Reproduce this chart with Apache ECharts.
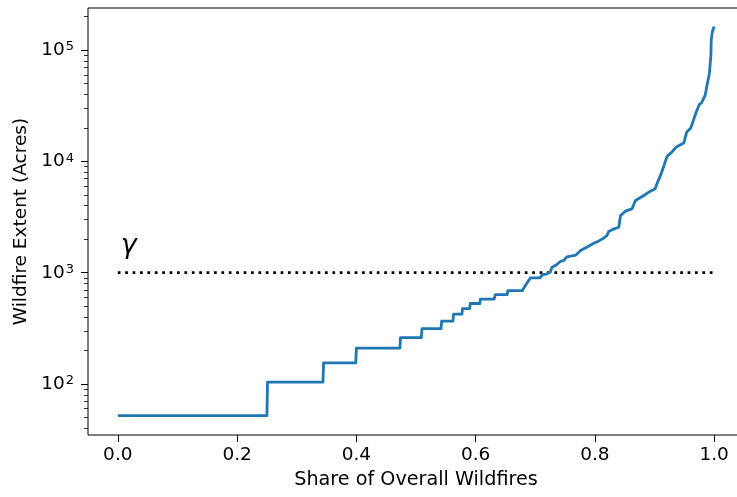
<!DOCTYPE html>
<html><head><meta charset="utf-8">
<script src="https://cdn.jsdelivr.net/npm/echarts@6/dist/echarts.min.js"></script>
<style>html,body{margin:0;padding:0;background:#fff}#c{width:737px;height:497px}</style>
</head><body><div id="c"></div>
<script>
// Share of overall wildfires (x) and wildfire extent in acres (y)
const shareValues = [
  0, 0.250, 0.251, 0.344, 0.345, 0.399, 0.400, 0.473, 0.474, 0.509, 0.510,
  0.542, 0.543, 0.562, 0.563, 0.577, 0.578, 0.590, 0.591, 0.607, 0.608,
  0.631, 0.633, 0.653, 0.654, 0.678, 0.685, 0.692, 0.708, 0.712, 0.718,
  0.720, 0.725, 0.728, 0.735, 0.742, 0.748, 0.753, 0.768, 0.776, 0.787,
  0.798, 0.806, 0.815, 0.820, 0.823, 0.830, 0.840, 0.843, 0.851, 0.862,
  0.868, 0.882, 0.893, 0.901, 0.905, 0.910, 0.915, 0.921, 0.929, 0.935,
  0.941, 0.949, 0.954, 0.960, 0.963, 0.967, 0.970, 0.975, 0.979, 0.985,
  0.988, 0.992, 0.9945, 0.995, 0.997, 1.0
];
const extentAcres = [
  52, 52, 104, 104, 155, 155, 210, 210, 261, 261, 315,
  315, 367, 367, 425, 425, 476, 476, 529, 529, 580,
  580, 636, 636, 689, 689, 790, 900, 900, 960, 970,
  1005, 1010, 1120, 1170, 1260, 1290, 1390, 1440, 1580, 1700,
  1840, 1920, 2050, 2150, 2340, 2450, 2560, 3270, 3570, 3740,
  4460, 4940, 5400, 5680, 6500, 7480, 8900, 11100, 12100, 13200,
  13900, 14600, 18400, 19700, 21500, 25100, 27800, 32400, 33700, 39400,
  48400, 61700, 90200, 123000, 146600, 162600
];
const xTickValues = [0, 0.2, 0.4, 0.6, 0.8, 1.0];
const yTickExponents = [2, 3, 4, 5];
const yMinorTickAcres = [40, 50, 60, 70, 80, 90, 200, 300, 400, 500, 600, 700, 800, 900,
  2000, 3000, 4000, 5000, 6000, 7000, 8000, 9000, 20000, 30000, 40000, 50000, 60000,
  70000, 80000, 90000, 200000];
const thresholdShare = [0, 1];
const thresholdAcres = 1000;
const thresholdLabel = 'γ';
const xLabel = 'Share of Overall Wildfires';
const yLabel = 'Wildfire Extent (Acres)';

const FONT = 'DejaVu Sans';
const yMin = 1.542, yMax = 5.378;
const chart = echarts.init(document.getElementById('c'), null, {renderer: 'canvas'});
const yAxisBase = {
  type: 'value', min: yMin, max: yMax, position: 'left',
  axisLine: {show: false, onZero: false}, splitLine: {show: false}
};
chart.setOption({
  animation: false,
  backgroundColor: '#fff',
  grid: {left: 88, top: 8, width: 656, bottom: 62, outerBoundsMode: 'none', containLabel: false,
    show: true, borderColor: '#000', borderWidth: 1, backgroundColor: 'transparent'},
  xAxis: {
    type: 'value', min: -0.05, max: 1.05,
    name: xLabel, nameLocation: 'middle', nameGap: 36,
    nameTextStyle: {fontFamily: FONT, fontSize: 19.2, color: '#000'},
    axisLine: {show: false, onZero: false}, splitLine: {show: false},
    axisTick: {show: true, customValues: xTickValues, length: 7, lineStyle: {color: '#000', width: 1}},
    axisLabel: {customValues: xTickValues, margin: 11, fontFamily: FONT, fontSize: 18.5, color: '#000',
      formatter: v => v.toFixed(1)}
  },
  yAxis: [
    Object.assign({}, yAxisBase, {
      name: yLabel, nameLocation: 'middle', nameGap: 55, nameRotate: 90,
      nameTextStyle: {fontFamily: FONT, fontSize: 18.5, color: '#000'},
      axisTick: {show: true, customValues: yTickExponents, length: 7, lineStyle: {color: '#000', width: 1}},
      axisLabel: {customValues: yTickExponents, margin: 14,
        formatter: v => '{b|10}{s|' + Math.round(v) + '}',
        rich: {
          b: {fontFamily: FONT, fontSize: 18.5, color: '#000'},
          s: {fontFamily: FONT, fontSize: 13, color: '#000', verticalAlign: 'top', padding: [0, 0, 6, 1]}
        }}
    }),
    Object.assign({}, yAxisBase, {
      axisTick: {show: true, customValues: yMinorTickAcres.map(v => Math.log10(v)), length: 4, lineStyle: {color: '#000', width: 0.8}},
      axisLabel: {show: false}
    })
  ],
  series: [
    {
      type: 'line', xAxisIndex: 0, yAxisIndex: 0,
      data: shareValues.map((x, i) => [x, Math.log10(extentAcres[i])]),
      showSymbol: false, symbol: 'none',
      lineStyle: {color: '#1f77b4', width: 2.8, join: 'round'},
      z: 3
    },
    {
      type: 'line', xAxisIndex: 0, yAxisIndex: 0,
      data: thresholdShare.map(x => [x, Math.log10(thresholdAcres)]),
      showSymbol: false, symbol: 'none',
      lineStyle: {color: '#000', width: 2.7, type: [2.7, 4.7], cap: 'butt'},
      markPoint: {
        symbol: 'circle', symbolSize: 0, silent: true,
        data: [{coord: [thresholdShare[0], Math.log10(thresholdAcres)],
          label: {show: true, formatter: thresholdLabel, position: 'inside', offset: [11, -27],
            fontFamily: FONT, fontSize: 27, fontStyle: 'italic', color: '#000'}}]
      },
      z: 2
    }
  ]
});
</script>
</body></html>
